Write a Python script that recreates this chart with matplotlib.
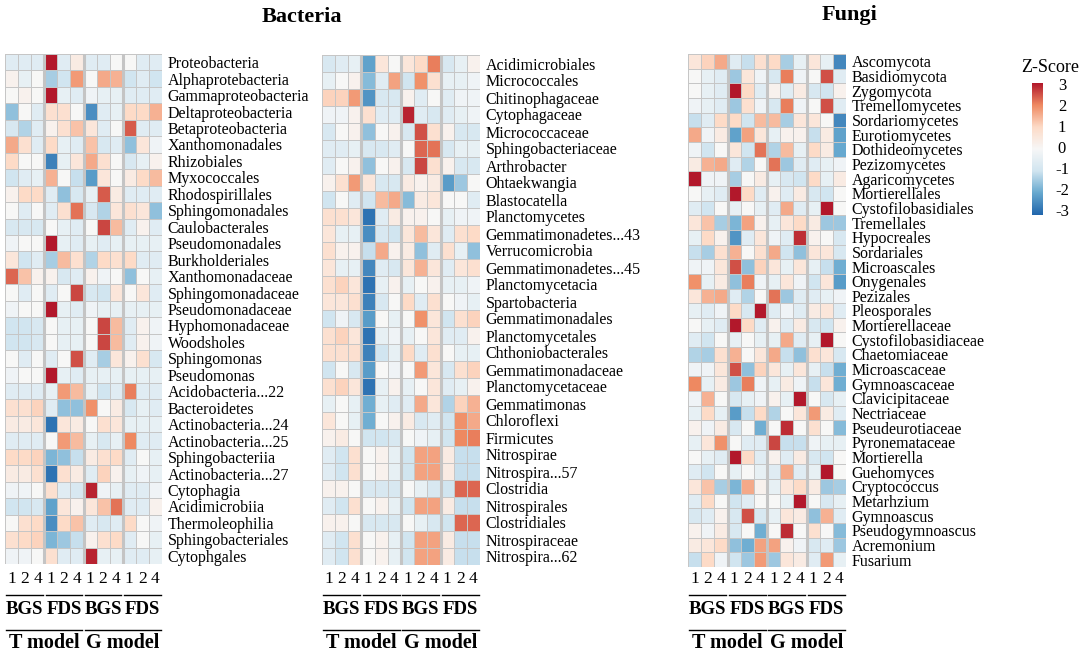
import numpy as np
import matplotlib.pyplot as plt
from matplotlib.colors import LinearSegmentedColormap
from matplotlib.transforms import blended_transform_factory

plt.rcParams['font.family'] = ['Liberation Serif', 'DejaVu Serif']

# column structure (same for all three heatmaps)
days = ['1', '2', '4'] * 4
stages = ['BGS', 'FDS', 'BGS', 'FDS']
models = ['T model', 'G model']

# ---- Bacteria, panel 1
bac1_rows = ['Proteobacteria', 'Alphaprotebacteria', 'Gammaproteobacteria', 'Deltaproteobacteria',
             'Betaproteobacteria', 'Xanthomonadales', 'Rhizobiales', 'Myxococcales', 'Rhodospirillales',
             'Sphingomonadales', 'Caulobacterales', 'Pseudomonadales', 'Burkholderiales',
             'Xanthomonadaceae', 'Sphingomonadaceae', 'Pseudomonadaceae', 'Hyphomonadaceae',
             'Woodsholes', 'Sphingomonas', 'Pseudomonas', 'Acidobacteria...22', 'Bacteroidetes',
             'Actinobacteria...24', 'Actinobacteria...25', 'Sphingobacteriia', 'Actinobacteria...27',
             'Cytophagia', 'Acidimicrobiia', 'Thermoleophilia', 'Sphingobacteriales', 'Cytophgales']
bac1_z = [
    [-0.6, -0.6, -0.6, 3.0, -0.6, 0.4, -0.6, -0.6, 0.0, 0.0, -0.6, -0.6],
    [0.2, -0.4, 0.0, -1.4, -1.0, 1.8, 0.0, 1.6, 1.5, -1.0, -0.6, -1.0],
    [0.0, 0.2, 0.0, 3.0, -0.4, -0.6, -0.2, -0.4, -0.4, -0.6, -0.6, -0.6],
    [-1.6, 0.0, -0.6, 0.8, 0.8, 0.0, -2.4, -0.6, -0.4, 1.0, 1.0, 1.5],
    [-0.8, -1.3, -0.6, 0.2, 0.8, 1.3, 0.6, -0.6, 0.0, 2.4, -0.6, -0.6],
    [1.6, 0.8, -0.6, 1.0, -0.4, -0.6, 1.3, -0.8, -0.6, -1.6, 0.6, -0.2],
    [1.0, 0.0, 0.0, -2.6, -0.4, 0.6, 1.6, 0.8, 0.0, -0.8, -0.4, 0.2],
    [-1.0, -0.6, -0.4, 1.5, 0.0, -1.1, -2.2, 0.6, 0.0, 0.4, 1.0, 1.4],
    [0.2, 1.0, 1.0, -0.6, -1.6, -0.8, -0.4, 2.4, 0.4, -0.6, -0.6, -0.6],
    [0.0, -0.6, 0.0, -0.6, 0.8, 2.2, -0.8, -1.3, 0.6, 0.8, 0.6, -1.6],
    [-0.8, -0.8, -0.8, 0.0, -0.4, -0.6, 0.0, 2.6, 1.4, -0.6, 0.2, -0.6],
    [-0.2, 0.0, 0.0, 3.0, -0.4, -0.6, -0.4, -0.6, -0.4, -0.4, -0.4, -0.4],
    [0.6, -1.0, -0.6, -1.4, 1.4, 0.8, -1.3, 1.0, 0.8, 1.0, -0.6, -0.6],
    [2.3, 1.3, 0.2, 0.2, -0.8, -0.6, 0.2, -0.2, 0.0, -1.6, 0.0, -0.4],
    [0.0, -0.6, 0.0, -0.6, 0.0, 2.6, -0.8, -1.0, 0.6, 0.0, 0.6, -0.6],
    [-0.2, 0.0, 0.0, 3.0, -0.4, -0.6, -0.2, -0.4, -0.4, -0.4, -0.4, -0.4],
    [-1.0, -1.0, -0.8, 0.0, -0.4, -0.4, 0.0, 2.6, 1.4, -0.6, 0.2, -0.2],
    [-1.0, -1.0, -0.8, 0.0, -0.4, -0.4, 0.0, 2.6, 1.4, -0.6, 0.2, -0.2],
    [0.0, -0.6, 0.0, -0.6, 0.0, 2.5, -0.6, -1.4, 0.6, 0.2, 0.8, -0.8],
    [-0.2, 0.0, 0.0, 3.0, -0.4, -0.6, -0.4, -0.4, -0.4, -0.4, -0.4, -0.4],
    [-0.6, -0.6, -0.6, -0.4, 1.8, 1.4, -0.4, -1.0, -0.6, 2.1, -0.6, -0.6],
    [0.8, 0.8, 1.1, -0.6, -1.6, -1.6, 1.9, 0.0, 0.4, -0.8, -0.4, -0.6],
    [0.4, 0.4, 0.6, -2.8, 0.6, 0.4, 0.0, 0.8, 0.6, -0.4, -0.4, -0.4],
    [-0.6, -0.6, -0.6, 0.0, 1.8, 1.4, -0.4, -0.8, -0.4, 2.0, -0.6, -0.6],
    [1.0, 1.0, 1.1, -1.8, -1.6, -1.1, 0.4, 0.8, 1.0, -0.6, 0.0, -0.4],
    [0.4, 0.4, 0.8, -2.8, 0.8, 0.4, -0.6, 1.1, 0.2, -0.4, -0.2, -0.4],
    [-0.2, -0.2, 0.0, 0.8, -0.6, -0.8, 2.9, -0.2, -0.4, -0.6, -0.6, -0.2],
    [-1.0, -1.0, -0.8, -2.1, 0.6, 0.2, 0.6, 1.3, 2.2, -0.6, -0.6, 0.2],
    [0.0, 0.8, 1.0, -2.4, 1.0, 1.3, -0.6, -0.8, -0.6, 1.0, 0.0, -0.2],
    [0.8, 1.0, 1.1, -1.8, -1.5, -1.1, 0.2, 0.8, 1.0, -0.6, 0.0, -0.4],
    [-0.2, -0.2, 0.0, 0.8, -0.6, -0.6, 2.9, -0.4, -0.4, -0.6, -0.6, -0.4],
]

# ---- Bacteria, panel 2
bac2_rows = ['Acidimicrobiales', 'Micrococcales', 'Chitinophagaceae', 'Cytophagaceae', 'Micrococcaceae',
             'Sphingobacteriaceae', 'Arthrobacter', 'Ohtaekwangia', 'Blastocatella', 'Planctomycetes',
             'Gemmatimonadetes...43', 'Verrucomicrobia', 'Gemmatimonadetes...45', 'Planctomycetacia',
             'Spartobacteria', 'Gemmatimonadales', 'Planctomycetales', 'Chthoniobacterales',
             'Gemmatimonadaceae', 'Planctomycetaceae', 'Gemmatimonas', 'Chloroflexi', 'Firmicutes',
             'Nitrospirae', 'Nitrospira...57', 'Clostridia', 'Nitrospirales', 'Clostridiales',
             'Nitrospiraceae', 'Nitrospira...62']
bac2_z = [
    [-0.8, -0.6, -0.4, -2.1, 0.6, 0.0, 0.6, 1.0, 2.1, -0.8, -0.4, 0.2],
    [-0.4, 0.0, 0.2, -1.7, -0.6, 1.7, -1.0, 1.9, 0.8, -0.4, -0.4, -0.2],
    [1.1, 1.1, 1.8, -2.3, -0.8, -0.8, 0.2, -0.6, 0.0, -0.6, -0.2, -0.2],
    [-0.2, -0.2, 0.2, 0.8, -0.6, -0.6, 2.9, -0.6, -0.8, -0.6, -0.4, -0.2],
    [-0.8, 0.0, 0.2, -1.6, 0.0, 0.2, -0.8, 2.5, 0.8, 0.2, -0.8, -0.8],
    [-0.6, -0.6, -0.4, -0.8, -0.8, -0.6, 0.0, 2.3, 2.2, -0.8, -0.4, -0.4],
    [-0.6, 0.0, 0.2, -1.6, 0.0, 0.2, -0.8, 2.6, 0.8, 0.2, -0.8, -0.8],
    [0.2, 0.8, 1.8, 0.6, -0.8, -0.8, 0.4, 0.2, 0.4, -2.2, -1.5, 0.0],
    [-1.0, 0.0, -0.6, -1.0, 1.4, 1.6, -1.7, 0.4, 0.6, 0.0, 0.0, -0.6],
    [0.8, 0.8, 0.6, -2.8, -0.6, 0.4, 0.2, 0.2, 0.0, -0.4, -0.2, -0.2],
    [0.6, -0.4, -0.4, -2.4, -0.8, -1.0, 0.6, 1.4, 0.6, -0.6, 0.8, 1.0],
    [0.8, 0.2, 0.2, -1.1, 1.6, 0.2, 0.4, -1.6, -0.6, 0.8, -0.4, -1.6],
    [0.6, -0.4, -0.4, -2.5, -0.6, -0.8, 0.6, 1.5, 0.6, -0.6, 0.6, 0.8],
    [0.8, 1.1, 0.6, -2.8, -0.4, 0.2, -0.4, 0.0, 0.2, -0.4, -0.4, -0.2],
    [0.6, 0.6, 0.8, -2.6, -0.8, 0.0, 1.0, -0.6, 0.8, 0.0, -0.2, -0.4],
    [-1.0, -0.2, -0.8, -2.2, 0.0, -0.4, 0.0, 1.9, 0.6, -1.0, 0.8, 1.1],
    [0.8, 1.1, 0.6, -2.8, -0.4, -0.2, -0.4, 0.0, 0.6, -0.6, -0.6, 0.2],
    [0.8, 0.8, 0.8, -2.6, -1.0, -0.4, 1.0, -0.6, 0.8, 0.0, -0.4, -0.4],
    [-1.0, 0.0, -0.8, -2.2, 0.0, -0.2, 0.0, 1.8, 0.6, -0.8, 0.8, 1.1],
    [0.8, 1.1, 0.6, -2.8, -0.4, 0.2, -0.4, 0.0, 0.6, -0.6, -0.4, 0.2],
    [-0.4, 0.0, -0.4, -1.9, -0.4, -0.6, -0.6, 1.6, 0.6, -1.3, 1.1, 1.5],
    [0.6, 0.0, -0.4, -1.9, 0.0, 0.2, 0.4, -0.8, -0.6, -1.0, 1.9, 1.6],
    [0.2, 0.4, 0.0, -1.0, -1.0, -0.8, 0.0, -0.2, -0.4, -1.0, 2.0, 2.1],
    [-0.6, -1.0, 0.8, 0.0, 0.2, -0.4, -1.0, 1.7, 1.7, 0.4, -1.1, -1.1],
    [-0.6, -1.0, 0.8, 0.0, 0.2, -0.4, -1.0, 1.7, 1.7, 0.4, -1.1, -1.1],
    [0.2, 0.2, 0.0, -0.8, -0.8, -0.8, 0.0, -0.4, -0.8, -1.0, 2.3, 2.3],
    [-0.6, -1.0, 0.8, 0.0, 0.2, -0.4, -1.0, 1.7, 1.7, 0.4, -1.1, -1.1],
    [0.2, 0.2, 0.0, -0.8, -0.8, -0.8, 0.0, -0.4, -0.8, -1.0, 2.3, 2.3],
    [-0.6, -1.0, 0.8, 0.0, 0.2, -0.4, -1.0, 1.7, 1.7, 0.4, -1.1, -1.1],
    [-0.6, -1.0, 0.8, 0.0, 0.2, -0.4, -1.0, 1.7, 1.7, 0.4, -1.1, -1.1],
]

# ---- Fungi
fun_rows = ['Ascomycota', 'Basidiomycota', 'Zygomycota', 'Tremellomycetes', 'Sordariomycetes',
            'Eurotiomycetes', 'Dothideomycetes', 'Pezizomycetes', 'Agaricomycetes', 'Mortierellales',
            'Cystofilobasidiales', 'Tremellales', 'Hypocreales', 'Sordariales', 'Microascales',
            'Onygenales', 'Pezizales', 'Pleosporales', 'Mortierellaceae', 'Cystofilobasidiaceae',
            'Chaetomiaceae', 'Microascaceae', 'Gymnoascaceae', 'Clavicipitaceae', 'Nectriaceae',
            'Pseudeurotiaceae', 'Pyronemataceae', 'Mortierella', 'Guehomyces', 'Cryptococcus',
            'Metarhzium', 'Gymnoascus', 'Pseudogymnoascus', 'Acremonium', 'Fusarium']
fun_z = [
    [0.6, 1.1, 1.6, -0.6, -1.1, 0.8, 1.0, -1.4, -0.4, 0.6, -0.4, -2.5],
    [0.0, -0.4, -0.6, -1.5, 0.6, -0.2, -0.8, 2.1, -0.2, 0.0, 2.5, -0.6],
    [0.0, -0.4, -0.6, 3.0, 1.0, -0.6, 0.2, -0.6, 0.4, -0.8, -1.0, 0.2],
    [-0.2, -0.4, -0.6, -1.5, 0.8, -0.2, -0.8, 2.1, -0.2, 0.0, 2.5, -0.6],
    [-1.1, -0.6, 1.0, 1.0, -1.0, 1.4, 1.4, -1.4, 0.6, 0.6, 0.0, -2.5],
    [1.6, -0.2, 0.4, -2.1, 1.7, 0.6, -0.4, 0.2, 0.2, -1.1, 0.4, -2.1],
    [-0.2, -1.0, 0.0, 0.6, -1.0, 2.2, -1.3, 1.4, -0.4, 1.0, 0.4, -2.0],
    [0.4, 1.5, 1.6, -0.6, -1.3, 0.0, 2.2, -1.5, -0.6, -0.6, -0.4, -0.2],
    [3.0, -0.2, -0.2, -1.4, 0.0, 0.4, -0.4, -0.8, -1.0, 1.0, -0.4, 0.4],
    [0.0, -0.4, -0.6, 3.0, 1.0, -0.6, 0.2, -0.6, 0.4, -0.8, -1.0, 0.0],
    [-0.6, -1.0, 0.0, -0.4, 0.0, -0.4, -0.6, 1.6, -0.6, -0.4, 3.0, 0.0],
    [0.6, 1.3, -1.4, -1.8, 1.7, 0.2, -0.4, 0.6, 1.0, 0.4, -1.5, -1.5],
    [-0.4, 1.0, 0.2, -2.3, -0.6, 0.6, -0.2, -0.6, 2.8, 0.2, 0.0, -0.8],
    [-1.1, -1.4, 0.8, 1.5, 0.0, 0.8, 1.6, -1.0, -1.6, 0.6, 0.6, -0.8],
    [-0.2, -0.2, 0.6, 2.5, -1.6, 1.1, 0.6, -0.4, 0.6, -0.4, -1.1, -1.9],
    [1.9, -0.4, 0.4, -1.6, 2.1, -0.2, -0.4, 0.6, -0.2, -1.0, 0.6, -2.2],
    [0.6, 1.5, 1.6, -0.6, -1.3, 0.0, 2.2, -1.5, -0.6, -0.6, -0.4, -0.2],
    [-0.4, -0.6, -0.2, 1.0, -0.8, 3.0, -0.6, -0.2, -0.6, 0.4, 0.6, -0.6],
    [0.0, -0.4, -0.6, 3.0, 1.0, -0.6, 0.2, -0.6, 0.4, -0.8, -1.0, 0.2],
    [-0.6, -1.0, 0.0, -0.4, 0.0, -0.4, -0.4, 1.6, -0.6, -0.4, 3.0, 0.0],
    [-1.3, -1.4, 0.8, 1.5, 0.0, 0.6, 1.6, -1.1, -1.6, 0.8, 0.6, -0.8],
    [-0.2, -0.2, 0.6, 2.5, -1.6, 1.1, 0.6, -0.4, 0.6, -0.4, -1.1, -1.9],
    [2.0, -0.4, 0.4, -1.5, 2.1, -0.2, -0.4, 0.4, -0.2, -1.1, 0.6, -1.9],
    [-0.2, 1.5, 0.0, -0.8, -0.4, -0.2, 0.2, -0.4, 3.0, 0.0, -0.8, -0.4],
    [-0.4, 1.0, -0.4, -2.2, -1.1, 1.0, -1.3, 0.0, 0.6, 1.8, 0.4, -0.6],
    [0.2, -0.2, 0.4, -0.8, 0.0, -1.9, 0.0, 2.8, 0.0, 0.8, 0.0, -1.7],
    [-0.4, 0.6, 1.9, 0.0, -0.6, -0.6, 2.6, -1.1, -1.1, -0.2, -0.4, -0.4],
    [0.0, -0.4, -0.6, 3.0, 1.0, -0.6, 0.2, -0.6, 0.4, -0.8, -1.0, 0.0],
    [-0.6, -1.0, 0.0, -0.4, 0.0, -0.4, -0.6, 1.6, -0.6, -0.4, 3.0, 0.0],
    [0.6, 1.3, -1.4, -1.8, 1.6, 0.2, -0.4, 0.6, 1.0, 0.4, -1.5, -1.4],
    [-0.6, 1.0, 0.0, -1.0, -0.6, 0.0, 0.0, -0.4, 3.0, 0.0, -0.8, -0.4],
    [-0.8, -0.6, 0.2, -0.8, 2.5, -0.8, -0.4, 0.6, 0.4, -1.6, 1.5, -0.6],
    [0.2, -0.2, 0.4, -0.8, 0.0, -1.9, 0.0, 2.8, 0.0, 0.8, 0.0, -1.7],
    [0.4, 0.6, 1.0, -1.6, -1.9, 1.7, 1.7, 0.2, -0.2, -0.8, -0.6, -1.5],
    [-1.1, 1.0, -0.2, -1.0, -1.5, 1.8, -1.5, 0.6, 0.4, -0.6, 1.8, -0.4],
]

W, H = 1084, 663
cmap = LinearSegmentedColormap.from_list(
    'rdbu7', ['#2166AC', '#67A9CF', '#D1E5F0', '#F7F7F7', '#FDDBC7', '#EF8A62', '#B2182B'])

fig = plt.figure(figsize=(W / 100, H / 100), dpi=100)


def px_axes(x0, y0, x1, y1):
    return fig.add_axes([x0 / W, 1 - y1 / H, (x1 - x0) / W, (y1 - y0) / H])


def fy(y):
    return 1 - y / H


def heatmap(box, rows, z):
    ax = px_axes(*box)
    z = np.array(z)
    n = len(rows)
    ax.pcolormesh(z, cmap=cmap, vmin=-3, vmax=3, edgecolors='#c6c6c6', linewidth=0.7)
    ax.set_xlim(0, 12)
    ax.set_ylim(n, 0)
    for x in [3, 6, 9]:
        ax.axvline(x, color='#c4c4c4', lw=2.2)
    for s in ax.spines.values():
        s.set_visible(False)
    ax.set_xticks([])
    ax.set_yticks(np.arange(n) + 0.5)
    ax.set_yticklabels(rows, fontsize=11.5)
    ax.yaxis.tick_right()
    ax.tick_params(axis='y', length=0, pad=4)

    tr = blended_transform_factory(ax.transData, fig.transFigure)
    for i, d in enumerate(days):
        ax.text(i + 0.5, fy(579), d, transform=tr, ha='center', va='center', fontsize=12.5)
    for g, st in enumerate(stages):
        ax.plot([g * 3 + 0.1, g * 3 + 2.9], [fy(595), fy(595)], transform=tr,
                color='black', lw=1, clip_on=False)
        ax.text(g * 3 + 1.5, fy(609), st, transform=tr, ha='center', va='center',
                fontsize=13.5, fontweight='bold')
    for m, md in enumerate(models):
        ax.plot([m * 6 + 0.1, m * 6 + 5.9], [fy(630), fy(630)], transform=tr,
                color='black', lw=1, clip_on=False)
        ax.text(m * 6 + 3, fy(643), md, transform=tr, ha='center', va='center',
                fontsize=14.5, fontweight='bold')
    return ax


heatmap((5, 54, 162, 564), bac1_rows, bac1_z)
heatmap((322, 55, 480, 565), bac2_rows, bac2_z)
heatmap((688, 54, 846, 567), fun_rows, fun_z)

fig.text(302 / W, fy(17), 'Bacteria', ha='center', va='center', fontsize=16, fontweight='bold')
fig.text(850 / W, fy(15), 'Fungi', ha='center', va='center', fontsize=16, fontweight='bold')

# colour key
cax = px_axes(1032, 83, 1043, 215)
grad = np.linspace(-3, 3, 256).reshape(-1, 1)
cax.imshow(grad, cmap=cmap, vmin=-3, vmax=3, aspect='auto', origin='lower',
           extent=[0, 1, -3.15, 3.15])
cax.set_ylim(-3.15, 3.15)
cax.set_xticks([])
cax.set_yticks([])
for s in cax.spines.values():
    s.set_visible(False)
for v in [3, 2, 1, 0, -1, -2, -3]:
    cax.text(1.0 + 19 / 11, v, str(v), ha='center', va='center', fontsize=12,
             transform=blended_transform_factory(cax.transAxes, cax.transData))
fig.text(1050 / W, fy(68), 'Z-Score', ha='center', va='center', fontsize=13)

fig.savefig('out.png', dpi=100)
